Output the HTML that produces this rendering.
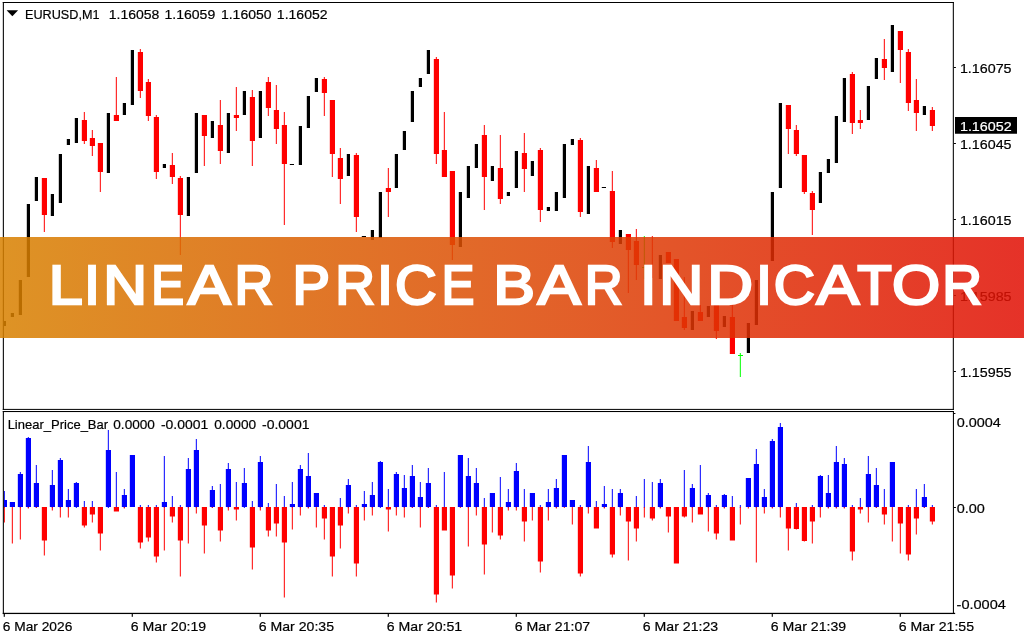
<!DOCTYPE html>
<html lang="en"><head><meta charset="utf-8"><title>Linear Price Bar Indicator</title>
<style>
html,body{margin:0;padding:0;background:#fff;}
body{width:1024px;height:640px;overflow:hidden;position:relative;font-family:"Liberation Sans",sans-serif;}
svg{position:absolute;left:0;top:0;display:block;}
.lbl{font-family:"Liberation Sans",sans-serif;font-size:13.6px;fill:#000;stroke:#000;stroke-width:0.2px;}
.ttl{font-family:"Liberation Sans",sans-serif;font-size:56.2px;font-weight:normal;fill:#fff;stroke:#fff;stroke-width:2.45;stroke-linejoin:miter;stroke-miterlimit:6;}
</style></head><body>
<svg width="1024" height="640" viewBox="0 0 1024 640">
<defs><linearGradient id="bg" x1="0" y1="0" x2="1" y2="0"><stop offset="0" stop-color="#d88100"/><stop offset="0.5" stop-color="#dd4b05"/><stop offset="1" stop-color="#e10f04"/></linearGradient></defs>
<rect width="1024" height="640" fill="#fff"/>
<g>
<rect x="43.82" y="178" width="1" height="54" fill="#f00"/>
<rect x="83.82" y="112" width="1" height="32" fill="#f00"/>
<rect x="91.82" y="130" width="1" height="26" fill="#f00"/>
<rect x="99.82" y="143" width="1" height="49" fill="#f00"/>
<rect x="115.82" y="77" width="1" height="44" fill="#f00"/>
<rect x="139.82" y="49" width="1" height="49" fill="#f00"/>
<rect x="147.82" y="79" width="1" height="42" fill="#f00"/>
<rect x="155.82" y="115" width="1" height="64" fill="#f00"/>
<rect x="171.82" y="153" width="1" height="31" fill="#f00"/>
<rect x="179.82" y="176" width="1" height="79" fill="#f00"/>
<rect x="203.82" y="115" width="1" height="51" fill="#f00"/>
<rect x="219.82" y="100" width="1" height="64" fill="#f00"/>
<rect x="235.82" y="87" width="1" height="44" fill="#f00"/>
<rect x="251.82" y="90" width="1" height="76" fill="#f00"/>
<rect x="267.82" y="77" width="1" height="39" fill="#f00"/>
<rect x="275.82" y="85" width="1" height="59" fill="#f00"/>
<rect x="283.82" y="112" width="1" height="113" fill="#f00"/>
<rect x="323.82" y="77" width="1" height="39" fill="#f00"/>
<rect x="331.82" y="100" width="1" height="77" fill="#f00"/>
<rect x="339.82" y="148" width="1" height="56" fill="#f00"/>
<rect x="355.82" y="153" width="1" height="79" fill="#f00"/>
<rect x="387.82" y="168" width="1" height="49" fill="#f00"/>
<rect x="435.82" y="57" width="1" height="107" fill="#f00"/>
<rect x="443.82" y="112" width="1" height="65" fill="#f00"/>
<rect x="451.82" y="171" width="1" height="89" fill="#f00"/>
<rect x="483.82" y="125" width="1" height="85" fill="#f00"/>
<rect x="499.82" y="135" width="1" height="69" fill="#f00"/>
<rect x="523.82" y="133" width="1" height="59" fill="#f00"/>
<rect x="539.82" y="148" width="1" height="74" fill="#f00"/>
<rect x="579.82" y="138" width="1" height="79" fill="#f00"/>
<rect x="595.82" y="160" width="1" height="32" fill="#f00"/>
<rect x="611.82" y="171" width="1" height="77" fill="#f00"/>
<rect x="627.82" y="234" width="1" height="59" fill="#f00"/>
<rect x="635.82" y="229" width="1" height="51" fill="#f00"/>
<rect x="643.82" y="236" width="1" height="43" fill="#0f0"/>
<rect x="651.82" y="236" width="1" height="42" fill="#f00"/>
<rect x="667.82" y="252" width="1" height="11" fill="#f00"/>
<rect x="675.82" y="259" width="1" height="62" fill="#f00"/>
<rect x="683.82" y="277" width="1" height="53" fill="#f00"/>
<rect x="699.82" y="305" width="1" height="16" fill="#f00"/>
<rect x="715.82" y="305" width="1" height="34" fill="#f00"/>
<rect x="731.82" y="305" width="1" height="49" fill="#f00"/>
<rect x="739.82" y="353" width="1" height="24" fill="#0f0"/>
<rect x="787.82" y="105" width="1" height="49" fill="#f00"/>
<rect x="795.82" y="125" width="1" height="31" fill="#f00"/>
<rect x="803.82" y="155" width="1" height="39" fill="#f00"/>
<rect x="811.82" y="191" width="1" height="44" fill="#f00"/>
<rect x="851.82" y="72" width="1" height="62" fill="#f00"/>
<rect x="859.82" y="110" width="1" height="19" fill="#f00"/>
<rect x="883.82" y="39" width="1" height="41" fill="#f00"/>
<rect x="899.82" y="31" width="1" height="52" fill="#f00"/>
<rect x="907.82" y="49" width="1" height="62" fill="#f00"/>
<rect x="915.82" y="79" width="1" height="52" fill="#f00"/>
<rect x="931.82" y="107" width="1" height="24" fill="#f00"/>
<rect x="3.82" y="491" width="1" height="17" fill="#00f"/>
<rect x="3.82" y="507" width="1" height="15.5" fill="#f00"/>
<rect x="11.82" y="507" width="1" height="36.5" fill="#f00"/>
<rect x="19.82" y="472" width="1" height="36" fill="#00f"/>
<rect x="19.82" y="507" width="1" height="32.5" fill="#f00"/>
<rect x="27.82" y="437" width="1" height="71" fill="#00f"/>
<rect x="27.82" y="507" width="1" height="1.5" fill="#f00"/>
<rect x="35.82" y="465" width="1" height="43" fill="#00f"/>
<rect x="35.82" y="507" width="1" height="1" fill="#f00"/>
<rect x="43.82" y="507" width="1" height="48.5" fill="#f00"/>
<rect x="51.82" y="470" width="1" height="38" fill="#00f"/>
<rect x="51.82" y="507" width="1" height="3.5" fill="#f00"/>
<rect x="59.82" y="458" width="1" height="50" fill="#00f"/>
<rect x="59.82" y="507" width="1" height="10.5" fill="#f00"/>
<rect x="67.82" y="489" width="1" height="19" fill="#00f"/>
<rect x="67.82" y="507" width="1" height="10.5" fill="#f00"/>
<rect x="75.82" y="482" width="1" height="26" fill="#00f"/>
<rect x="83.82" y="501" width="1" height="7" fill="#00f"/>
<rect x="83.82" y="507" width="1" height="20.5" fill="#f00"/>
<rect x="91.82" y="501" width="1" height="7" fill="#00f"/>
<rect x="91.82" y="507" width="1" height="15.5" fill="#f00"/>
<rect x="99.82" y="507" width="1" height="43.5" fill="#f00"/>
<rect x="107.82" y="430" width="1" height="78" fill="#00f"/>
<rect x="115.82" y="472" width="1" height="36" fill="#00f"/>
<rect x="123.82" y="489" width="1" height="19" fill="#00f"/>
<rect x="123.82" y="507" width="1" height="1.5" fill="#f00"/>
<rect x="139.82" y="505" width="1" height="3" fill="#00f"/>
<rect x="139.82" y="507" width="1" height="41.5" fill="#f00"/>
<rect x="147.82" y="505" width="1" height="3" fill="#00f"/>
<rect x="147.82" y="507" width="1" height="34.5" fill="#f00"/>
<rect x="155.82" y="505" width="1" height="3" fill="#00f"/>
<rect x="155.82" y="507" width="1" height="55.5" fill="#f00"/>
<rect x="163.82" y="456" width="1" height="52" fill="#00f"/>
<rect x="163.82" y="507" width="1" height="43.5" fill="#f00"/>
<rect x="171.82" y="496" width="1" height="12" fill="#00f"/>
<rect x="171.82" y="507" width="1" height="15.5" fill="#f00"/>
<rect x="179.82" y="505" width="1" height="3" fill="#00f"/>
<rect x="179.82" y="507" width="1" height="69.5" fill="#f00"/>
<rect x="187.82" y="458" width="1" height="50" fill="#00f"/>
<rect x="187.82" y="507" width="1" height="36.5" fill="#f00"/>
<rect x="195.82" y="439" width="1" height="69" fill="#00f"/>
<rect x="195.82" y="507" width="1" height="6.5" fill="#f00"/>
<rect x="203.82" y="507" width="1" height="46.5" fill="#f00"/>
<rect x="211.82" y="486" width="1" height="22" fill="#00f"/>
<rect x="211.82" y="507" width="1" height="1" fill="#f00"/>
<rect x="219.82" y="484" width="1" height="24" fill="#00f"/>
<rect x="219.82" y="507" width="1" height="34.5" fill="#f00"/>
<rect x="227.82" y="463" width="1" height="45" fill="#00f"/>
<rect x="227.82" y="507" width="1" height="3.5" fill="#f00"/>
<rect x="235.82" y="482" width="1" height="26" fill="#00f"/>
<rect x="235.82" y="507" width="1" height="13.5" fill="#f00"/>
<rect x="243.82" y="468" width="1" height="40" fill="#00f"/>
<rect x="251.82" y="501" width="1" height="7" fill="#00f"/>
<rect x="251.82" y="507" width="1" height="62.5" fill="#f00"/>
<rect x="259.82" y="456" width="1" height="52" fill="#00f"/>
<rect x="259.82" y="507" width="1" height="3.5" fill="#f00"/>
<rect x="267.82" y="503" width="1" height="5" fill="#00f"/>
<rect x="267.82" y="507" width="1" height="29.5" fill="#f00"/>
<rect x="275.82" y="484" width="1" height="24" fill="#00f"/>
<rect x="275.82" y="507" width="1" height="29.5" fill="#f00"/>
<rect x="283.82" y="496" width="1" height="12" fill="#00f"/>
<rect x="283.82" y="507" width="1" height="90.5" fill="#f00"/>
<rect x="291.82" y="482" width="1" height="26" fill="#00f"/>
<rect x="291.82" y="507" width="1" height="22.5" fill="#f00"/>
<rect x="299.82" y="465" width="1" height="43" fill="#00f"/>
<rect x="299.82" y="507" width="1" height="8.5" fill="#f00"/>
<rect x="307.82" y="453" width="1" height="55" fill="#00f"/>
<rect x="307.82" y="507" width="1" height="1.5" fill="#f00"/>
<rect x="315.82" y="507" width="1" height="20.5" fill="#f00"/>
<rect x="323.82" y="505" width="1" height="3" fill="#00f"/>
<rect x="323.82" y="507" width="1" height="32.5" fill="#f00"/>
<rect x="331.82" y="507" width="1" height="69.5" fill="#f00"/>
<rect x="339.82" y="498" width="1" height="10" fill="#00f"/>
<rect x="339.82" y="507" width="1" height="41.5" fill="#f00"/>
<rect x="347.82" y="479" width="1" height="29" fill="#00f"/>
<rect x="347.82" y="507" width="1" height="6.5" fill="#f00"/>
<rect x="355.82" y="505" width="1" height="3" fill="#00f"/>
<rect x="355.82" y="507" width="1" height="69.5" fill="#f00"/>
<rect x="363.82" y="491" width="1" height="17" fill="#00f"/>
<rect x="363.82" y="507" width="1" height="13.5" fill="#f00"/>
<rect x="371.82" y="482" width="1" height="26" fill="#00f"/>
<rect x="371.82" y="507" width="1" height="8.5" fill="#f00"/>
<rect x="379.82" y="461" width="1" height="47" fill="#00f"/>
<rect x="387.82" y="489" width="1" height="19" fill="#00f"/>
<rect x="387.82" y="507" width="1" height="24.5" fill="#f00"/>
<rect x="395.82" y="472" width="1" height="36" fill="#00f"/>
<rect x="395.82" y="507" width="1" height="8.5" fill="#f00"/>
<rect x="403.82" y="475" width="1" height="33" fill="#00f"/>
<rect x="403.82" y="507" width="1" height="10.5" fill="#f00"/>
<rect x="411.82" y="465" width="1" height="43" fill="#00f"/>
<rect x="411.82" y="507" width="1" height="1" fill="#f00"/>
<rect x="419.82" y="482" width="1" height="26" fill="#00f"/>
<rect x="419.82" y="507" width="1" height="20.5" fill="#f00"/>
<rect x="427.82" y="468" width="1" height="40" fill="#00f"/>
<rect x="427.82" y="507" width="1" height="1" fill="#f00"/>
<rect x="435.82" y="505" width="1" height="3" fill="#00f"/>
<rect x="435.82" y="507" width="1" height="95.5" fill="#f00"/>
<rect x="443.82" y="472" width="1" height="36" fill="#00f"/>
<rect x="451.82" y="507" width="1" height="81.5" fill="#f00"/>
<rect x="459.82" y="507" width="1" height="1" fill="#f00"/>
<rect x="467.82" y="458" width="1" height="50" fill="#00f"/>
<rect x="467.82" y="507" width="1" height="39.5" fill="#f00"/>
<rect x="475.82" y="468" width="1" height="40" fill="#00f"/>
<rect x="475.82" y="507" width="1" height="8.5" fill="#f00"/>
<rect x="483.82" y="498" width="1" height="10" fill="#00f"/>
<rect x="483.82" y="507" width="1" height="67.5" fill="#f00"/>
<rect x="491.82" y="507" width="1" height="25.5" fill="#f00"/>
<rect x="499.82" y="477" width="1" height="31" fill="#00f"/>
<rect x="499.82" y="507" width="1" height="32.5" fill="#f00"/>
<rect x="507.82" y="489" width="1" height="19" fill="#00f"/>
<rect x="507.82" y="507" width="1" height="3.5" fill="#f00"/>
<rect x="515.82" y="463" width="1" height="45" fill="#00f"/>
<rect x="515.82" y="507" width="1" height="3.5" fill="#f00"/>
<rect x="523.82" y="489" width="1" height="19" fill="#00f"/>
<rect x="523.82" y="507" width="1" height="34.5" fill="#f00"/>
<rect x="531.82" y="507" width="1" height="13.5" fill="#f00"/>
<rect x="539.82" y="505" width="1" height="3" fill="#00f"/>
<rect x="539.82" y="507" width="1" height="65.5" fill="#f00"/>
<rect x="547.82" y="489" width="1" height="19" fill="#00f"/>
<rect x="547.82" y="507" width="1" height="13.5" fill="#f00"/>
<rect x="555.82" y="479" width="1" height="29" fill="#00f"/>
<rect x="555.82" y="507" width="1" height="1.5" fill="#f00"/>
<rect x="563.82" y="507" width="1" height="1" fill="#f00"/>
<rect x="571.82" y="507" width="1" height="17.5" fill="#f00"/>
<rect x="579.82" y="505" width="1" height="3" fill="#00f"/>
<rect x="579.82" y="507" width="1" height="69.5" fill="#f00"/>
<rect x="587.82" y="446" width="1" height="62" fill="#00f"/>
<rect x="587.82" y="507" width="1" height="6.5" fill="#f00"/>
<rect x="595.82" y="501" width="1" height="7" fill="#00f"/>
<rect x="603.82" y="486" width="1" height="22" fill="#00f"/>
<rect x="603.82" y="507" width="1" height="1.5" fill="#f00"/>
<rect x="611.82" y="489" width="1" height="19" fill="#00f"/>
<rect x="611.82" y="507" width="1" height="50.5" fill="#f00"/>
<rect x="619.82" y="489" width="1" height="19" fill="#00f"/>
<rect x="619.82" y="507" width="1" height="8.5" fill="#f00"/>
<rect x="627.82" y="507" width="1" height="53.5" fill="#f00"/>
<rect x="635.82" y="496" width="1" height="12" fill="#00f"/>
<rect x="635.82" y="507" width="1" height="34.5" fill="#f00"/>
<rect x="643.82" y="479" width="1" height="29" fill="#00f"/>
<rect x="643.82" y="507" width="1" height="10.5" fill="#f00"/>
<rect x="651.82" y="482" width="1" height="26" fill="#00f"/>
<rect x="651.82" y="507" width="1" height="13.5" fill="#f00"/>
<rect x="659.82" y="479" width="1" height="29" fill="#00f"/>
<rect x="659.82" y="507" width="1" height="1.5" fill="#f00"/>
<rect x="667.82" y="507" width="1" height="25.5" fill="#f00"/>
<rect x="683.82" y="470" width="1" height="38" fill="#00f"/>
<rect x="683.82" y="507" width="1" height="10.5" fill="#f00"/>
<rect x="691.82" y="484" width="1" height="24" fill="#00f"/>
<rect x="691.82" y="507" width="1" height="15.5" fill="#f00"/>
<rect x="699.82" y="465" width="1" height="43" fill="#00f"/>
<rect x="707.82" y="493" width="1" height="15" fill="#00f"/>
<rect x="707.82" y="507" width="1" height="24.5" fill="#f00"/>
<rect x="715.82" y="505" width="1" height="3" fill="#00f"/>
<rect x="715.82" y="507" width="1" height="32.5" fill="#f00"/>
<rect x="723.82" y="494" width="1" height="14" fill="#00f"/>
<rect x="723.82" y="507" width="1" height="1.5" fill="#f00"/>
<rect x="731.82" y="496" width="1" height="12" fill="#00f"/>
<rect x="739.82" y="505" width="1" height="3" fill="#00f"/>
<rect x="739.82" y="507" width="1" height="17.5" fill="#f00"/>
<rect x="747.82" y="507" width="1" height="1.5" fill="#f00"/>
<rect x="755.82" y="449" width="1" height="59" fill="#00f"/>
<rect x="755.82" y="507" width="1" height="55.5" fill="#f00"/>
<rect x="763.82" y="489" width="1" height="19" fill="#00f"/>
<rect x="763.82" y="507" width="1" height="6.5" fill="#f00"/>
<rect x="771.82" y="439" width="1" height="69" fill="#00f"/>
<rect x="771.82" y="507" width="1" height="1.5" fill="#f00"/>
<rect x="779.82" y="423" width="1" height="85" fill="#00f"/>
<rect x="779.82" y="507" width="1" height="10.5" fill="#f00"/>
<rect x="787.82" y="507" width="1" height="43.5" fill="#f00"/>
<rect x="795.82" y="503" width="1" height="5" fill="#00f"/>
<rect x="795.82" y="507" width="1" height="22.5" fill="#f00"/>
<rect x="803.82" y="507" width="1" height="34.5" fill="#f00"/>
<rect x="811.82" y="505" width="1" height="3" fill="#00f"/>
<rect x="811.82" y="507" width="1" height="36.5" fill="#f00"/>
<rect x="819.82" y="475" width="1" height="33" fill="#00f"/>
<rect x="819.82" y="507" width="1" height="10.5" fill="#f00"/>
<rect x="827.82" y="475" width="1" height="33" fill="#00f"/>
<rect x="827.82" y="507" width="1" height="1.5" fill="#f00"/>
<rect x="835.82" y="446" width="1" height="62" fill="#00f"/>
<rect x="835.82" y="507" width="1" height="1.5" fill="#f00"/>
<rect x="843.82" y="458" width="1" height="50" fill="#00f"/>
<rect x="843.82" y="507" width="1" height="1.5" fill="#f00"/>
<rect x="851.82" y="505" width="1" height="3" fill="#00f"/>
<rect x="851.82" y="507" width="1" height="53.5" fill="#f00"/>
<rect x="859.82" y="498" width="1" height="10" fill="#00f"/>
<rect x="859.82" y="507" width="1" height="6.5" fill="#f00"/>
<rect x="867.82" y="456" width="1" height="52" fill="#00f"/>
<rect x="867.82" y="507" width="1" height="15.5" fill="#f00"/>
<rect x="875.82" y="468" width="1" height="40" fill="#00f"/>
<rect x="875.82" y="507" width="1" height="1" fill="#f00"/>
<rect x="883.82" y="489" width="1" height="19" fill="#00f"/>
<rect x="883.82" y="507" width="1" height="17.5" fill="#f00"/>
<rect x="891.82" y="507" width="1" height="34.5" fill="#f00"/>
<rect x="899.82" y="507" width="1" height="46.5" fill="#f00"/>
<rect x="907.82" y="505" width="1" height="3" fill="#00f"/>
<rect x="907.82" y="507" width="1" height="53.5" fill="#f00"/>
<rect x="915.82" y="489" width="1" height="19" fill="#00f"/>
<rect x="915.82" y="507" width="1" height="27.5" fill="#f00"/>
<rect x="923.82" y="484" width="1" height="24" fill="#00f"/>
<rect x="923.82" y="507" width="1" height="1" fill="#f00"/>
<rect x="931.82" y="505" width="1" height="3" fill="#00f"/>
<rect x="931.82" y="507" width="1" height="17.5" fill="#f00"/>
</g>
<g id="bodies">
<rect x="2.8" y="321" width="3.2" height="5" fill="#000"/>
<rect x="10.8" y="313" width="3.2" height="4" fill="#000"/>
<rect x="18.8" y="280" width="3.2" height="35" fill="#000"/>
<rect x="26.8" y="204" width="3.2" height="73" fill="#000"/>
<rect x="34.8" y="177" width="3.2" height="24" fill="#000"/>
<rect x="41.82" y="178" width="5.18" height="37" fill="#f00"/>
<rect x="50.8" y="194" width="3.2" height="22" fill="#000"/>
<rect x="58.8" y="154" width="3.2" height="49" fill="#000"/>
<rect x="66.8" y="139" width="3.2" height="6" fill="#000"/>
<rect x="74.8" y="118" width="3.2" height="25" fill="#000"/>
<rect x="81.82" y="120" width="5.18" height="21" fill="#f00"/>
<rect x="89.82" y="138" width="5.18" height="8" fill="#f00"/>
<rect x="97.82" y="143" width="5.18" height="29" fill="#f00"/>
<rect x="106.8" y="113" width="3.2" height="60" fill="#000"/>
<rect x="113.82" y="115" width="5.18" height="6" fill="#f00"/>
<rect x="122.8" y="103" width="3.2" height="12" fill="#000"/>
<rect x="130.8" y="50" width="3.2" height="55" fill="#000"/>
<rect x="137.82" y="52" width="5.18" height="39" fill="#f00"/>
<rect x="145.82" y="82" width="5.18" height="34" fill="#f00"/>
<rect x="153.82" y="117" width="5.18" height="55" fill="#f00"/>
<rect x="162.8" y="164" width="3.2" height="4" fill="#000"/>
<rect x="169.82" y="165" width="5.18" height="12" fill="#f00"/>
<rect x="177.82" y="178" width="5.18" height="37" fill="#f00"/>
<rect x="186.8" y="177" width="3.2" height="39" fill="#000"/>
<rect x="194.8" y="113" width="3.2" height="60" fill="#000"/>
<rect x="201.82" y="115" width="5.18" height="21" fill="#f00"/>
<rect x="210.8" y="121" width="3.2" height="17" fill="#000"/>
<rect x="217.82" y="125" width="5.18" height="26" fill="#f00"/>
<rect x="226.8" y="113" width="3.2" height="40" fill="#000"/>
<rect x="233.82" y="115" width="5.18" height="3" fill="#f00"/>
<rect x="242.8" y="91" width="3.2" height="24" fill="#000"/>
<rect x="249.82" y="97" width="5.18" height="44" fill="#f00"/>
<rect x="258.8" y="91" width="3.2" height="47" fill="#000"/>
<rect x="265.82" y="82" width="5.18" height="26" fill="#f00"/>
<rect x="273.82" y="110" width="5.18" height="19" fill="#f00"/>
<rect x="281.82" y="125" width="5.18" height="39" fill="#f00"/>
<rect x="289.8" y="164" width="4.2" height="1" fill="#000"/>
<rect x="298.8" y="126" width="3.2" height="39" fill="#000"/>
<rect x="306.8" y="96" width="3.2" height="32" fill="#000"/>
<rect x="314.8" y="78" width="3.2" height="14" fill="#000"/>
<rect x="321.82" y="79" width="5.18" height="14" fill="#f00"/>
<rect x="329.82" y="100" width="5.18" height="54" fill="#f00"/>
<rect x="337.82" y="158" width="5.18" height="21" fill="#f00"/>
<rect x="346.8" y="154" width="3.2" height="22" fill="#000"/>
<rect x="353.82" y="155" width="5.18" height="62" fill="#f00"/>
<rect x="361.8" y="236" width="4.2" height="1" fill="#000"/>
<rect x="370.8" y="230" width="3.2" height="10" fill="#000"/>
<rect x="378.8" y="192" width="3.2" height="46" fill="#000"/>
<rect x="385.82" y="188" width="5.18" height="4" fill="#f00"/>
<rect x="394.8" y="154" width="3.2" height="34" fill="#000"/>
<rect x="402.8" y="131" width="3.2" height="19" fill="#000"/>
<rect x="410.8" y="91" width="3.2" height="31" fill="#000"/>
<rect x="418.8" y="78" width="3.2" height="9" fill="#000"/>
<rect x="426.8" y="50" width="3.2" height="24" fill="#000"/>
<rect x="433.82" y="59" width="5.18" height="95" fill="#f00"/>
<rect x="441.82" y="150" width="5.18" height="27" fill="#f00"/>
<rect x="449.82" y="171" width="5.18" height="74" fill="#f00"/>
<rect x="458.8" y="192" width="3.2" height="55" fill="#000"/>
<rect x="466.8" y="166" width="3.2" height="32" fill="#000"/>
<rect x="474.8" y="144" width="3.2" height="24" fill="#000"/>
<rect x="481.82" y="135" width="5.18" height="42" fill="#f00"/>
<rect x="490.8" y="166" width="3.2" height="15" fill="#000"/>
<rect x="497.82" y="168" width="5.18" height="31" fill="#f00"/>
<rect x="506.8" y="192" width="3.2" height="4" fill="#000"/>
<rect x="514.8" y="151" width="3.2" height="37" fill="#000"/>
<rect x="521.82" y="153" width="5.18" height="16" fill="#f00"/>
<rect x="530.8" y="161" width="3.2" height="15" fill="#000"/>
<rect x="537.82" y="150" width="5.18" height="60" fill="#f00"/>
<rect x="546.8" y="207" width="3.2" height="4" fill="#000"/>
<rect x="554.8" y="192" width="3.2" height="19" fill="#000"/>
<rect x="562.8" y="144" width="3.2" height="54" fill="#000"/>
<rect x="570.8" y="139" width="3.2" height="6" fill="#000"/>
<rect x="577.82" y="140" width="5.18" height="72" fill="#f00"/>
<rect x="586.8" y="166" width="3.2" height="48" fill="#000"/>
<rect x="593.82" y="168" width="5.18" height="24" fill="#f00"/>
<rect x="601.8" y="187" width="4.2" height="1" fill="#000"/>
<rect x="609.82" y="191" width="5.18" height="51" fill="#f00"/>
<rect x="618.8" y="230" width="3.2" height="14" fill="#000"/>
<rect x="625.82" y="234" width="5.18" height="16" fill="#f00"/>
<rect x="633.82" y="241" width="5.18" height="24" fill="#f00"/>
<rect x="658.8" y="255" width="3.2" height="24" fill="#000"/>
<rect x="665.82" y="252" width="5.18" height="11" fill="#f00"/>
<rect x="673.82" y="259" width="5.18" height="62" fill="#f00"/>
<rect x="681.82" y="317" width="5.18" height="11" fill="#f00"/>
<rect x="690.8" y="311" width="3.2" height="19" fill="#000"/>
<rect x="697.82" y="312" width="5.18" height="9" fill="#f00"/>
<rect x="706.8" y="306" width="3.2" height="11" fill="#000"/>
<rect x="713.82" y="305" width="5.18" height="26" fill="#f00"/>
<rect x="722.8" y="316" width="3.2" height="11" fill="#000"/>
<rect x="729.82" y="317" width="5.18" height="37" fill="#f00"/>
<rect x="746.8" y="323" width="3.2" height="30" fill="#000"/>
<rect x="754.8" y="280" width="3.2" height="45" fill="#000"/>
<rect x="762.8" y="270" width="3.2" height="10" fill="#000"/>
<rect x="770.8" y="192" width="3.2" height="69" fill="#000"/>
<rect x="778.8" y="103" width="3.2" height="85" fill="#000"/>
<rect x="785.82" y="105" width="5.18" height="24" fill="#f00"/>
<rect x="793.82" y="130" width="5.18" height="24" fill="#f00"/>
<rect x="801.82" y="155" width="5.18" height="37" fill="#f00"/>
<rect x="809.82" y="193" width="5.18" height="17" fill="#f00"/>
<rect x="818.8" y="172" width="3.2" height="31" fill="#000"/>
<rect x="826.8" y="159" width="3.2" height="14" fill="#000"/>
<rect x="834.8" y="116" width="3.2" height="47" fill="#000"/>
<rect x="842.8" y="78" width="3.2" height="44" fill="#000"/>
<rect x="849.82" y="74" width="5.18" height="49" fill="#f00"/>
<rect x="857.82" y="120" width="5.18" height="3" fill="#f00"/>
<rect x="866.8" y="86" width="3.2" height="34" fill="#000"/>
<rect x="874.8" y="58" width="3.2" height="21" fill="#000"/>
<rect x="881.82" y="59" width="5.18" height="9" fill="#f00"/>
<rect x="890.8" y="25" width="3.2" height="47" fill="#000"/>
<rect x="897.82" y="31" width="5.18" height="19" fill="#f00"/>
<rect x="905.82" y="52" width="5.18" height="51" fill="#f00"/>
<rect x="913.82" y="100" width="5.18" height="13" fill="#f00"/>
<rect x="922.8" y="106" width="3.2" height="9" fill="#000"/>
<rect x="929.82" y="110" width="5.18" height="16" fill="#f00"/>
<rect x="642" y="267" width="3" height="1" fill="#0f0"/>
<rect x="738" y="355" width="5" height="1" fill="#0f0"/>
<rect x="1.82" y="500" width="5.18" height="7" fill="#00f"/>
<rect x="9.82" y="502" width="5.18" height="5" fill="#00f"/>
<rect x="17.82" y="474" width="5.18" height="33" fill="#00f"/>
<rect x="25.82" y="438" width="5.18" height="69" fill="#00f"/>
<rect x="33.82" y="483" width="5.18" height="24" fill="#00f"/>
<rect x="41.82" y="507" width="5.18" height="33.5" fill="#f00"/>
<rect x="49.82" y="485" width="5.18" height="22" fill="#00f"/>
<rect x="57.82" y="460" width="5.18" height="47" fill="#00f"/>
<rect x="65.82" y="500" width="5.18" height="7" fill="#00f"/>
<rect x="73.82" y="483" width="5.18" height="24" fill="#00f"/>
<rect x="81.82" y="507" width="5.18" height="18.5" fill="#f00"/>
<rect x="89.82" y="507" width="5.18" height="7.5" fill="#f00"/>
<rect x="97.82" y="507" width="5.18" height="26.5" fill="#f00"/>
<rect x="105.82" y="450" width="5.18" height="57" fill="#00f"/>
<rect x="113.82" y="507" width="5.18" height="4.5" fill="#f00"/>
<rect x="121.82" y="495" width="5.18" height="12" fill="#00f"/>
<rect x="129.82" y="455" width="5.18" height="52" fill="#00f"/>
<rect x="137.82" y="507" width="5.18" height="35.5" fill="#f00"/>
<rect x="145.82" y="507" width="5.18" height="30.5" fill="#f00"/>
<rect x="153.82" y="507" width="5.18" height="49.5" fill="#f00"/>
<rect x="161.82" y="502" width="5.18" height="5" fill="#00f"/>
<rect x="169.82" y="507" width="5.18" height="9.5" fill="#f00"/>
<rect x="177.82" y="507" width="5.18" height="33.5" fill="#f00"/>
<rect x="185.82" y="469" width="5.18" height="38" fill="#00f"/>
<rect x="193.82" y="450" width="5.18" height="57" fill="#00f"/>
<rect x="201.82" y="507" width="5.18" height="18.5" fill="#f00"/>
<rect x="209.82" y="490" width="5.18" height="17" fill="#00f"/>
<rect x="217.82" y="507" width="5.18" height="23.5" fill="#f00"/>
<rect x="225.82" y="469" width="5.18" height="38" fill="#00f"/>
<rect x="233.82" y="507" width="5.18" height="2.5" fill="#f00"/>
<rect x="241.82" y="483" width="5.18" height="24" fill="#00f"/>
<rect x="249.82" y="507" width="5.18" height="40.5" fill="#f00"/>
<rect x="257.82" y="462" width="5.18" height="45" fill="#00f"/>
<rect x="265.82" y="507" width="5.18" height="23.5" fill="#f00"/>
<rect x="273.82" y="507" width="5.18" height="16.5" fill="#f00"/>
<rect x="281.82" y="507" width="5.18" height="35.5" fill="#f00"/>
<rect x="289.82" y="504" width="5.18" height="3" fill="#00f"/>
<rect x="297.82" y="469" width="5.18" height="38" fill="#00f"/>
<rect x="305.82" y="476" width="5.18" height="31" fill="#00f"/>
<rect x="313.82" y="493" width="5.18" height="14" fill="#00f"/>
<rect x="321.82" y="507" width="5.18" height="11.5" fill="#f00"/>
<rect x="329.82" y="507" width="5.18" height="49.5" fill="#f00"/>
<rect x="337.82" y="507" width="5.18" height="18.5" fill="#f00"/>
<rect x="345.82" y="485" width="5.18" height="22" fill="#00f"/>
<rect x="353.82" y="507" width="5.18" height="56.5" fill="#f00"/>
<rect x="361.82" y="504" width="5.18" height="3" fill="#00f"/>
<rect x="369.82" y="495" width="5.18" height="12" fill="#00f"/>
<rect x="377.82" y="462" width="5.18" height="45" fill="#00f"/>
<rect x="385.82" y="507" width="5.18" height="2.5" fill="#f00"/>
<rect x="393.82" y="474" width="5.18" height="33" fill="#00f"/>
<rect x="401.82" y="488" width="5.18" height="19" fill="#00f"/>
<rect x="409.82" y="476" width="5.18" height="31" fill="#00f"/>
<rect x="417.82" y="497" width="5.18" height="10" fill="#00f"/>
<rect x="425.82" y="483" width="5.18" height="24" fill="#00f"/>
<rect x="433.82" y="507" width="5.18" height="87.5" fill="#f00"/>
<rect x="441.82" y="507" width="5.18" height="23.5" fill="#f00"/>
<rect x="449.82" y="507" width="5.18" height="68.5" fill="#f00"/>
<rect x="457.82" y="455" width="5.18" height="52" fill="#00f"/>
<rect x="465.82" y="476" width="5.18" height="31" fill="#00f"/>
<rect x="473.82" y="483" width="5.18" height="24" fill="#00f"/>
<rect x="481.82" y="507" width="5.18" height="37.5" fill="#f00"/>
<rect x="489.82" y="493" width="5.18" height="14" fill="#00f"/>
<rect x="497.82" y="507" width="5.18" height="28.5" fill="#f00"/>
<rect x="505.82" y="502" width="5.18" height="5" fill="#00f"/>
<rect x="513.82" y="471" width="5.18" height="36" fill="#00f"/>
<rect x="521.82" y="507" width="5.18" height="14.5" fill="#f00"/>
<rect x="529.82" y="493" width="5.18" height="14" fill="#00f"/>
<rect x="537.82" y="507" width="5.18" height="54.5" fill="#f00"/>
<rect x="545.82" y="502" width="5.18" height="5" fill="#00f"/>
<rect x="553.82" y="488" width="5.18" height="19" fill="#00f"/>
<rect x="561.82" y="455" width="5.18" height="52" fill="#00f"/>
<rect x="569.82" y="500" width="5.18" height="7" fill="#00f"/>
<rect x="577.82" y="507" width="5.18" height="66.5" fill="#f00"/>
<rect x="585.82" y="462" width="5.18" height="45" fill="#00f"/>
<rect x="593.82" y="507" width="5.18" height="21.5" fill="#f00"/>
<rect x="601.82" y="504" width="5.18" height="3" fill="#00f"/>
<rect x="609.82" y="507" width="5.18" height="47.5" fill="#f00"/>
<rect x="617.82" y="493" width="5.18" height="14" fill="#00f"/>
<rect x="625.82" y="507" width="5.18" height="14.5" fill="#f00"/>
<rect x="633.82" y="507" width="5.18" height="21.5" fill="#f00"/>
<rect x="649.82" y="507" width="5.18" height="11.5" fill="#f00"/>
<rect x="657.82" y="483" width="5.18" height="24" fill="#00f"/>
<rect x="665.82" y="507" width="5.18" height="9.5" fill="#f00"/>
<rect x="673.82" y="507" width="5.18" height="56.5" fill="#f00"/>
<rect x="681.82" y="507" width="5.18" height="9.5" fill="#f00"/>
<rect x="689.82" y="488" width="5.18" height="19" fill="#00f"/>
<rect x="697.82" y="507" width="5.18" height="7.5" fill="#f00"/>
<rect x="705.82" y="495" width="5.18" height="12" fill="#00f"/>
<rect x="713.82" y="507" width="5.18" height="26.5" fill="#f00"/>
<rect x="721.82" y="495" width="5.18" height="12" fill="#00f"/>
<rect x="729.82" y="507" width="5.18" height="33.5" fill="#f00"/>
<rect x="745.82" y="478" width="5.18" height="29" fill="#00f"/>
<rect x="753.82" y="464" width="5.18" height="43" fill="#00f"/>
<rect x="761.82" y="497" width="5.18" height="10" fill="#00f"/>
<rect x="769.82" y="441" width="5.18" height="66" fill="#00f"/>
<rect x="777.82" y="427" width="5.18" height="80" fill="#00f"/>
<rect x="785.82" y="507" width="5.18" height="21.5" fill="#f00"/>
<rect x="793.82" y="507" width="5.18" height="22" fill="#f00"/>
<rect x="801.82" y="507" width="5.18" height="34" fill="#f00"/>
<rect x="809.82" y="507" width="5.18" height="14.5" fill="#f00"/>
<rect x="817.82" y="476" width="5.18" height="31" fill="#00f"/>
<rect x="825.82" y="493" width="5.18" height="14" fill="#00f"/>
<rect x="833.82" y="462" width="5.18" height="45" fill="#00f"/>
<rect x="841.82" y="464" width="5.18" height="43" fill="#00f"/>
<rect x="849.82" y="507" width="5.18" height="44.5" fill="#f00"/>
<rect x="857.82" y="507" width="5.18" height="2.5" fill="#f00"/>
<rect x="865.82" y="474" width="5.18" height="33" fill="#00f"/>
<rect x="873.82" y="485" width="5.18" height="22" fill="#00f"/>
<rect x="881.82" y="507" width="5.18" height="7.5" fill="#f00"/>
<rect x="889.82" y="462" width="5.18" height="45" fill="#00f"/>
<rect x="897.82" y="507" width="5.18" height="16.5" fill="#f00"/>
<rect x="905.82" y="507" width="5.18" height="47.5" fill="#f00"/>
<rect x="913.82" y="507" width="5.18" height="11.5" fill="#f00"/>
<rect x="921.82" y="497" width="5.18" height="10" fill="#00f"/>
<rect x="929.82" y="507" width="5.18" height="14.5" fill="#f00"/>
</g>
<rect x="0" y="0" width="3" height="640" fill="#fff"/>
<g fill="#000">
<rect x="2.8" y="2" width="1.2" height="407.9" fill="#1c1c1c"/>
<rect x="2.75" y="2" width="951.1" height="1"/>
<rect x="952.8" y="2" width="1.05" height="407.9"/>
<rect x="2.75" y="408.9" width="951.1" height="1"/>
<rect x="2.8" y="411" width="1.2" height="203" fill="#1c1c1c"/>
<rect x="2.75" y="411" width="951.1" height="1.05"/>
<rect x="952.9" y="411" width="1.05" height="203"/>
<rect x="2.75" y="612.8" width="952.4" height="1.25"/>
<rect x="953.9" y="67" width="2" height="1"/>
<rect x="953.9" y="143" width="2" height="1"/>
<rect x="953.9" y="219" width="2" height="1"/>
<rect x="953.9" y="295" width="2" height="1"/>
<rect x="953.9" y="371" width="2" height="1"/>
<rect x="953.9" y="507" width="2" height="1"/>
<rect x="953.9" y="413" width="1.5" height="1"/>
<rect x="3.7" y="613.5" width="1.15" height="3.3"/>
<rect x="131.7" y="613.5" width="1.15" height="3.3"/>
<rect x="259.7" y="613.5" width="1.15" height="3.3"/>
<rect x="387.7" y="613.5" width="1.15" height="3.3"/>
<rect x="515.7" y="613.5" width="1.15" height="3.3"/>
<rect x="643.7" y="613.5" width="1.15" height="3.3"/>
<rect x="771.7" y="613.5" width="1.15" height="3.3"/>
<rect x="899.7" y="613.5" width="1.15" height="3.3"/>
</g>
<path d="M6.6 10.2 L18.1 10.2 L12.35 16.2 Z" fill="#000"/>
<text class="lbl" transform="translate(24.96 18.8) scale(0.9321 1)">EURUSD,M1</text>
<text class="lbl" transform="translate(108.73 18.8) scale(1.0308 1)">1.16058</text>
<text class="lbl" transform="translate(164.53 18.8) scale(1.0320 1)">1.16059</text>
<text class="lbl" transform="translate(220.93 18.8) scale(1.0296 1)">1.16050</text>
<text class="lbl" transform="translate(276.83 18.8) scale(1.0329 1)">1.16052</text>
<text class="lbl" transform="translate(7.63 428.8) scale(0.9572 1)">Linear_Price_Bar</text>
<text class="lbl" transform="translate(113.27 428.8) scale(1.0016 1)">0.0000</text>
<text class="lbl" transform="translate(160.98 428.8) scale(1.0255 1)">-0.0001</text>
<text class="lbl" transform="translate(214.27 428.8) scale(1.0066 1)">0.0000</text>
<text class="lbl" transform="translate(261.98 428.8) scale(1.0299 1)">-0.0001</text>
<text class="lbl" transform="translate(959.91 73) scale(1.0514 1)">1.16075</text>
<text class="lbl" transform="translate(959.91 149) scale(1.0514 1)">1.16045</text>
<text class="lbl" transform="translate(959.91 225) scale(1.0514 1)">1.16015</text>
<text class="lbl" transform="translate(959.91 301) scale(1.0514 1)">1.15985</text>
<text class="lbl" transform="translate(959.91 377) scale(1.0514 1)">1.15955</text>
<text class="lbl" transform="translate(956.64 426.9) scale(1.0623 1)">0.0004</text>
<text class="lbl" transform="translate(956.63 513) scale(1.0666 1)">0.00</text>
<text class="lbl" transform="translate(956.55 608.8) scale(1.0704 1)">-0.0004</text>
<text class="lbl" transform="translate(2.8 630.6) scale(1.0117 1)">6 Mar 2026</text>
<text class="lbl" transform="translate(130.78 630.6) scale(1.0387 1)">6 Mar 20:19</text>
<text class="lbl" transform="translate(258.78 630.6) scale(1.0377 1)">6 Mar 20:35</text>
<text class="lbl" transform="translate(386.78 630.6) scale(1.0390 1)">6 Mar 20:51</text>
<text class="lbl" transform="translate(514.78 630.6) scale(1.0393 1)">6 Mar 21:07</text>
<text class="lbl" transform="translate(642.78 630.6) scale(1.0381 1)">6 Mar 21:23</text>
<text class="lbl" transform="translate(770.78 630.6) scale(1.0387 1)">6 Mar 21:39</text>
<text class="lbl" transform="translate(898.78 630.6) scale(1.0377 1)">6 Mar 21:55</text>
<rect x="955" y="117" width="62" height="16.75" fill="#000"/>
<text class="lbl" transform="translate(959.91 130.9) scale(1.0539 1)" style="fill:#fff;stroke:#fff">1.16052</text>
<rect x="0" y="237" width="1024" height="101" fill="url(#bg)" fill-opacity="0.855"/>
<text class="ttl" y="303.67" xml:space="preserve"><tspan x="48.82" textLength="33.98" lengthAdjust="spacingAndGlyphs">L</tspan><tspan x="83.93" textLength="16.04" lengthAdjust="spacingAndGlyphs">I</tspan><tspan x="103.25" textLength="43.77" lengthAdjust="spacingAndGlyphs">N</tspan><tspan x="151.24" textLength="32.8" lengthAdjust="spacingAndGlyphs">E</tspan><tspan x="187.96" textLength="42.47" lengthAdjust="spacingAndGlyphs">A</tspan><tspan x="234.57" textLength="38.75" lengthAdjust="spacingAndGlyphs">R</tspan> <tspan x="292.62" textLength="37.41" lengthAdjust="spacingAndGlyphs">P</tspan><tspan x="335.28" textLength="39.83" lengthAdjust="spacingAndGlyphs">R</tspan><tspan x="377.13" textLength="16.04" lengthAdjust="spacingAndGlyphs">I</tspan><tspan x="395.03" textLength="41.61" lengthAdjust="spacingAndGlyphs">C</tspan><tspan x="441.76" textLength="32.58" lengthAdjust="spacingAndGlyphs">E</tspan> <tspan x="493.23" textLength="41.7" lengthAdjust="spacingAndGlyphs">B</tspan><tspan x="537.77" textLength="42.76" lengthAdjust="spacingAndGlyphs">A</tspan><tspan x="584.83" textLength="37.96" lengthAdjust="spacingAndGlyphs">R</tspan> <tspan x="640.23" textLength="16.04" lengthAdjust="spacingAndGlyphs">I</tspan><tspan x="659.23" textLength="44.01" lengthAdjust="spacingAndGlyphs">N</tspan><tspan x="707.18" textLength="45.77" lengthAdjust="spacingAndGlyphs">D</tspan><tspan x="755.93" textLength="16.04" lengthAdjust="spacingAndGlyphs">I</tspan><tspan x="773.75" textLength="41.18" lengthAdjust="spacingAndGlyphs">C</tspan><tspan x="816.57" textLength="42.66" lengthAdjust="spacingAndGlyphs">A</tspan><tspan x="857.16" textLength="34.5" lengthAdjust="spacingAndGlyphs">T</tspan><tspan x="891.92" textLength="48.2" lengthAdjust="spacingAndGlyphs">O</tspan><tspan x="942.27" textLength="39.88" lengthAdjust="spacingAndGlyphs">R</tspan></text>
</svg>
</body></html>
